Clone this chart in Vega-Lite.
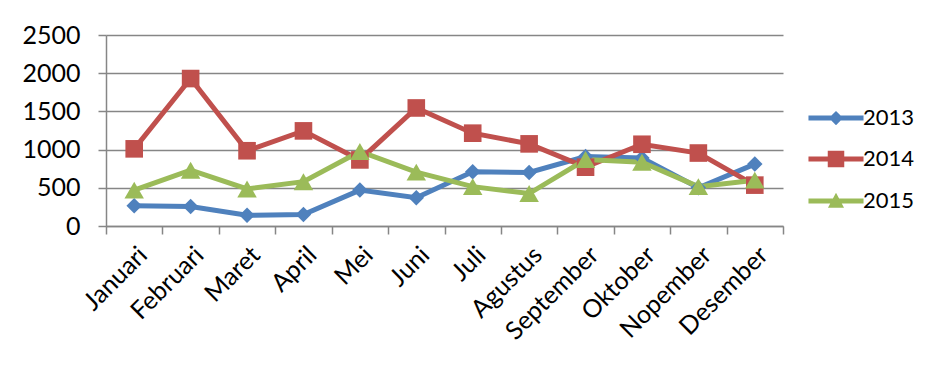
{
  "$schema": "https://vega.github.io/schema/vega-lite/v6.json",
  "width": 677,
  "height": 191,
  "autosize": "none",
  "padding": {"left": 106, "top": 35, "right": 161, "bottom": 141},
  "background": "white",
  "config": {
    "view": {"stroke": null},
    "font": "Lato",
    "axis": {
      "domainColor": "#868686",
      "domainWidth": 1.5,
      "tickColor": "#868686",
      "tickWidth": 1.5,
      "tickSize": 8,
      "gridColor": "#868686",
      "gridWidth": 1.5,
      "labelColor": "#000000",
      "labelFontSize": 25,
      "labelFont": "Lato",
      "title": null
    }
  },
  "data": {
    "values": [
      {"month": "Januari", "year": "2013", "value": 265},
      {"month": "Februari", "year": "2013", "value": 255},
      {"month": "Maret", "year": "2013", "value": 140},
      {"month": "April", "year": "2013", "value": 150},
      {"month": "Mei", "year": "2013", "value": 470},
      {"month": "Juni", "year": "2013", "value": 370},
      {"month": "Juli", "year": "2013", "value": 710},
      {"month": "Agustus", "year": "2013", "value": 700},
      {"month": "September", "year": "2013", "value": 910},
      {"month": "Oktober", "year": "2013", "value": 890},
      {"month": "Nopember", "year": "2013", "value": 500},
      {"month": "Desember", "year": "2013", "value": 810},
      {"month": "Januari", "year": "2014", "value": 1010},
      {"month": "Februari", "year": "2014", "value": 1930},
      {"month": "Maret", "year": "2014", "value": 985},
      {"month": "April", "year": "2014", "value": 1245},
      {"month": "Mei", "year": "2014", "value": 865},
      {"month": "Juni", "year": "2014", "value": 1545},
      {"month": "Juli", "year": "2014", "value": 1215},
      {"month": "Agustus", "year": "2014", "value": 1075},
      {"month": "September", "year": "2014", "value": 770},
      {"month": "Oktober", "year": "2014", "value": 1070},
      {"month": "Nopember", "year": "2014", "value": 955},
      {"month": "Desember", "year": "2014", "value": 535},
      {"month": "Januari", "year": "2015", "value": 470},
      {"month": "Februari", "year": "2015", "value": 730},
      {"month": "Maret", "year": "2015", "value": 485},
      {"month": "April", "year": "2015", "value": 580},
      {"month": "Mei", "year": "2015", "value": 975},
      {"month": "Juni", "year": "2015", "value": 705},
      {"month": "Juli", "year": "2015", "value": 515},
      {"month": "Agustus", "year": "2015", "value": 425},
      {"month": "September", "year": "2015", "value": 870},
      {"month": "Oktober", "year": "2015", "value": 835},
      {"month": "Nopember", "year": "2015", "value": 515},
      {"month": "Desember", "year": "2015", "value": 600}
    ]
  },
  "encoding": {
    "x": {
      "field": "month",
      "type": "nominal",
      "sort": null,
      "scale": {"paddingInner": 0, "paddingOuter": 0},
      "axis": {
        "labelAngle": -45,
        "tickBand": "extent",
        "grid": false,
        "labelPadding": 8
      }
    },
    "y": {
      "field": "value",
      "type": "quantitative",
      "scale": {"domain": [0, 2500], "nice": false},
      "axis": {
        "values": [0, 500, 1000, 1500, 2000, 2500],
        "format": "d",
        "grid": true,
        "labelPadding": 18
      }
    }
  },
  "layer": [
    {
      "mark": {"type": "line", "strokeWidth": 5},
      "encoding": {
        "color": {
          "field": "year",
          "type": "nominal",
          "scale": {"domain": ["2013", "2014", "2015"], "range": ["#4F81BD", "#C0504D", "#9BBB59"]},
          "legend": null
        }
      }
    },
    {
      "mark": {"type": "point", "filled": true, "opacity": 1},
      "encoding": {
        "color": {"field": "year", "type": "nominal", "legend": null},
        "shape": {
          "field": "year",
          "type": "nominal",
          "scale": {"domain": ["2013", "2014", "2015"], "range": ["diamond", "square", "triangle-up"]},
          "legend": null
        },
        "size": {
          "field": "year",
          "type": "ordinal",
          "scale": {"domain": ["2013", "2014", "2015"], "range": [240, 380, 360]},
          "legend": null
        }
      }
    },
    {
      "mark": {"type": "point", "filled": true, "opacity": 0},
      "encoding": {
        "color": {
          "field": "year",
          "type": "nominal",
          "legend": {
            "orient": "none",
            "legendX": 719,
            "legendY": 72,
            "title": null,
            "symbolSize": 225,
            "symbolOpacity": 1,
            "labelFontSize": 22,
            "labelFont": "Lato",
            "labelColor": "#000000",
            "labelOffset": 16,
            "rowPadding": 18
          }
        },
        "shape": {
          "field": "year",
          "type": "nominal",
          "scale": {
            "domain": ["2013", "2014", "2015"],
            "range": [
              "M-3.67,-0.33H3.67V0.33H-3.67Z M-0.95,0L0,-0.95L0.95,0L0,0.95Z",
              "M-3.67,-0.33H3.67V0.33H-3.67Z M-1.1,-1.1H1.1V1.1H-1.1Z",
              "M-3.67,-0.33H3.67V0.33H-3.67Z M-1.07,0.9L0,-1.1L1.07,0.9Z"
            ]
          },
          "legend": {
            "orient": "none",
            "legendX": 719,
            "legendY": 72,
            "title": null,
            "symbolSize": 225,
            "symbolOpacity": 1,
            "labelFontSize": 22,
            "labelFont": "Lato",
            "labelColor": "#000000",
            "labelOffset": 16,
            "rowPadding": 18
          }
        }
      }
    }
  ],
  "resolve": {
    "scale": {"shape": "independent", "size": "independent"},
    "legend": {"color": "independent", "shape": "independent"}
  }
}
